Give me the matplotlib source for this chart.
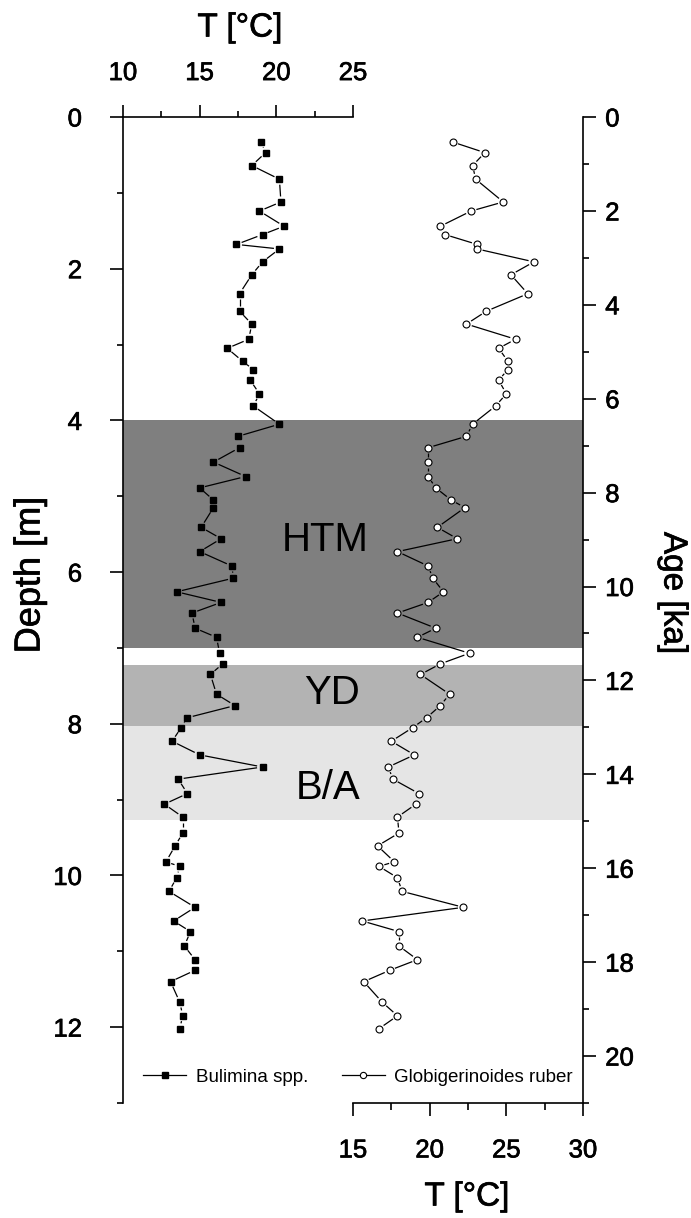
import matplotlib
matplotlib.use("Agg")
import numpy as np
import matplotlib.pyplot as plt
import matplotlib.patheffects as pe
from matplotlib.collections import LineCollection
from matplotlib.lines import Line2D
from matplotlib.ticker import MultipleLocator, FixedLocator

plt.rcParams['font.family'] = ['Liberation Sans', 'DejaVu Sans']

# Sample depths (m) shared by both temperature records
depth_m = [0.33, 0.47, 0.64, 0.82, 1.12, 1.24, 1.44, 1.55, 1.68, 1.74,
           1.91, 2.08, 2.33, 2.56, 2.73, 2.93, 3.05, 3.22, 3.33, 3.47,
           3.65, 3.81, 4.05, 4.21, 4.36, 4.55, 4.74, 4.89, 5.05, 5.15,
           5.41, 5.56, 5.73, 5.92, 6.08, 6.26, 6.40, 6.54, 6.74, 6.86,
           7.07, 7.21, 7.35, 7.61, 7.76, 7.92, 8.05, 8.23, 8.41, 8.57,
           8.73, 8.92, 9.06, 9.23, 9.44, 9.61, 9.82, 9.88, 10.03, 10.21,
           10.42, 10.60, 10.74, 10.93, 11.11, 11.25, 11.40, 11.67, 11.85, 12.02]

# Bulimina spp. temperature (deg C), upper scale
bulimina_T = [19.0, 19.3, 18.4, 20.2, 20.3, 18.9, 20.5, 19.1, 17.4, 20.2,
              19.1, 18.4, 17.6, 17.6, 18.4, 18.2, 16.8, 17.8, 18.5, 18.3,
              18.9, 18.5, 20.2, 17.5, 17.6, 15.9, 18.0, 15.0, 15.9, 15.9,
              15.1, 16.4, 15.0, 17.1, 17.2, 13.5, 16.4, 14.5, 14.7, 16.1,
              16.3, 16.5, 15.7, 16.1, 17.3, 14.2, 13.8, 13.2, 15.0, 19.1,
              13.6, 14.2, 12.7, 13.9, 13.9, 13.4, 12.8, 13.7, 13.5, 13.0,
              14.7, 13.3, 14.4, 14.0, 14.7, 14.7, 13.1, 13.7, 13.9, 13.7]

# Globigerinoides ruber temperature (deg C), lower scale
ruber_T = [21.5, 23.6, 22.8, 23.0, 24.8, 22.7, 20.7, 21.0, 23.1, 23.1,
           26.8, 25.3, 26.4, 23.7, 22.4, 25.6, 24.5, 25.1, 25.1, 24.5,
           25.0, 24.3, 22.8, 22.4, 19.9, 19.9, 19.9, 20.4, 21.4, 22.3,
           20.5, 21.8, 17.9, 19.9, 20.2, 20.9, 19.9, 17.9, 20.4, 19.2,
           22.6, 20.7, 19.4, 21.3, 20.7, 19.8, 18.9, 17.5, 19.0, 17.3,
           17.6, 19.3, 19.1, 17.9, 18.0, 16.6, 17.7, 16.7, 17.9, 18.2,
           22.2, 15.6, 18.0, 18.0, 19.2, 17.4, 15.7, 16.9, 17.9, 16.7]

# Climate intervals (depth ranges in m)
zone_names = ['HTM', 'YD', 'B/A']
zone_top = [4.0, 7.23, 8.03]
zone_bottom = [7.0, 8.03, 9.27]
zone_colors = ['#7f7f7f', '#b3b3b3', '#e5e5e5']
zone_label_depth = [5.58, 7.59, 8.85]
zone_label_x = [0.439, 0.455, 0.446]

top_ticks = [10, 15, 20, 25]
bottom_ticks = [15, 20, 25, 30]

W, H = 691, 1218
fig = plt.figure(figsize=(W / 100, H / 100), dpi=100)
ax = fig.add_axes([123 / W, 115 / H, 460 / W, 986 / H])
ax2 = ax.twiny()

LW = 1.2
TXT = [pe.withStroke(linewidth=0.5, foreground='black')]


def gapped_line(axis, xs, ys, gap_px, **kw):
    """Connect data points with segments that stop short of each symbol."""
    pts = axis.transData.transform(np.column_stack([xs, ys]))
    inv = axis.transData.inverted()
    segs = []
    for p, q in zip(pts[:-1], pts[1:]):
        d = q - p
        L = np.hypot(*d)
        if L <= 2 * gap_px + 0.5:
            continue
        u = d / L
        segs.append(inv.transform(np.array([p + u * gap_px, q - u * gap_px])))
    axis.add_collection(LineCollection(segs, **kw))


# --- depth / upper temperature axes ---
ax.set_ylim(13, 0)
ax.set_xlim(10, 40)
ax.xaxis.tick_top()
ax.xaxis.set_major_locator(FixedLocator(top_ticks))
ax.xaxis.set_minor_locator(FixedLocator([12.5, 17.5, 22.5]))
ax.yaxis.set_major_locator(MultipleLocator(2))
ax.yaxis.set_minor_locator(MultipleLocator(1))
for s in ['bottom', 'right']:
    ax.spines[s].set_visible(False)
ax.spines['top'].set_bounds(10, 25)
for s in ['top', 'left']:
    ax.spines[s].set_linewidth(LW)
ax.tick_params(axis='y', which='major', direction='out', length=9.5, width=LW,
               pad=20, labelsize=18.5)
ax.tick_params(axis='y', which='minor', direction='out', length=4.5, width=LW)
ax.tick_params(axis='x', which='major', direction='out', length=9, width=LW,
               pad=14, labelsize=18.5, top=True, bottom=False,
               labeltop=True, labelbottom=False)
ax.tick_params(axis='x', which='minor', direction='out', length=4.5, width=LW,
               top=True, bottom=False)

for name, t, b, c, yd, xl in zip(zone_names, zone_top, zone_bottom, zone_colors,
                                 zone_label_depth, zone_label_x):
    ax.axhspan(t, b, color=c, lw=0, zorder=0)
    ax.text(xl, yd, name, transform=ax.get_yaxis_transform(), ha='center',
            va='center', fontsize=29, color='black', zorder=1)

# --- lower temperature axis ---
ax2.set_xlim(0, 30)
ax2.set_ylim(13, 0)
ax2.xaxis.tick_bottom()
ax2.xaxis.set_major_locator(FixedLocator(bottom_ticks))
ax2.xaxis.set_minor_locator(FixedLocator([17.5, 22.5, 27.5]))
for s in ['top', 'left', 'right']:
    ax2.spines[s].set_visible(False)
ax2.spines['bottom'].set_bounds(15, 30)
ax2.spines['bottom'].set_linewidth(LW)
ax2.tick_params(axis='x', which='major', direction='out', length=9.5, width=LW,
                pad=16, labelsize=18.5)
ax2.tick_params(axis='x', which='minor', direction='out', length=5, width=LW)

# --- temperature records ---
gapped_line(ax, bulimina_T, depth_m, 5.5, colors='black', linewidths=0.9, zorder=2)
ax.plot(bulimina_T, depth_m, ls='none', marker='s', ms=5, mfc='black',
        mec='black', zorder=3)
gapped_line(ax2, ruber_T, depth_m, 5.5, colors='black', linewidths=0.9, zorder=2)
ax2.plot(ruber_T, depth_m, ls='none', marker='o', ms=5, mfc='white',
         mec='black', mew=0.8, zorder=3)

# --- age axis on the right ---
AGE_MAX, DEPTH_MAX = 21.0, 13.0
sec = ax.secondary_yaxis('right', functions=(lambda d: d * AGE_MAX / DEPTH_MAX,
                                             lambda a: a * DEPTH_MAX / AGE_MAX))
sec.yaxis.set_major_locator(MultipleLocator(2))
sec.yaxis.set_minor_locator(MultipleLocator(1))
sec.spines['right'].set_linewidth(LW)
sec.tick_params(axis='y', which='major', direction='out', length=9, width=LW,
                pad=7, labelsize=18.5)
sec.tick_params(axis='y', which='minor', direction='out', length=4.5, width=LW)

for lab in (ax.get_xticklabels() + ax.get_yticklabels() +
            ax2.get_xticklabels() + sec.get_yticklabels()):
    lab.set_path_effects(TXT)

# --- axis titles ---
titles = [
    (240, 28, 'T [°C]', 0, 24),
    (467, 1197, 'T [°C]', 0, 24),
    (30, 575, 'Depth [m]', 90, 26),
    (673, 593, 'Age [ka]', 270, 24),
]
for px, py, s, rot, fs in titles:
    fig.text(px / W, 1 - py / H, s, ha='center', va='center', rotation=rot,
             fontsize=fs, path_effects=TXT)

h1 = Line2D([], [], color='black', lw=0.9, marker='s', ms=4.5, mfc='black', mec='black')
h2 = Line2D([], [], color='black', lw=0.9, marker='o', ms=4.5, mfc='white',
            mec='black', mew=0.8)
ax2.legend([h1, h2], ['Bulimina spp.', 'Globigerinoides ruber'],
           loc='center left', bbox_to_anchor=(143 / W, 1 - 1077 / H),
           bbox_transform=fig.transFigure, ncol=2, frameon=False,
           borderpad=0, borderaxespad=0, handlelength=2.3, handletextpad=0.5,
           columnspacing=1.8, fontsize=13.5)

fig.savefig('out.png', dpi=100)
